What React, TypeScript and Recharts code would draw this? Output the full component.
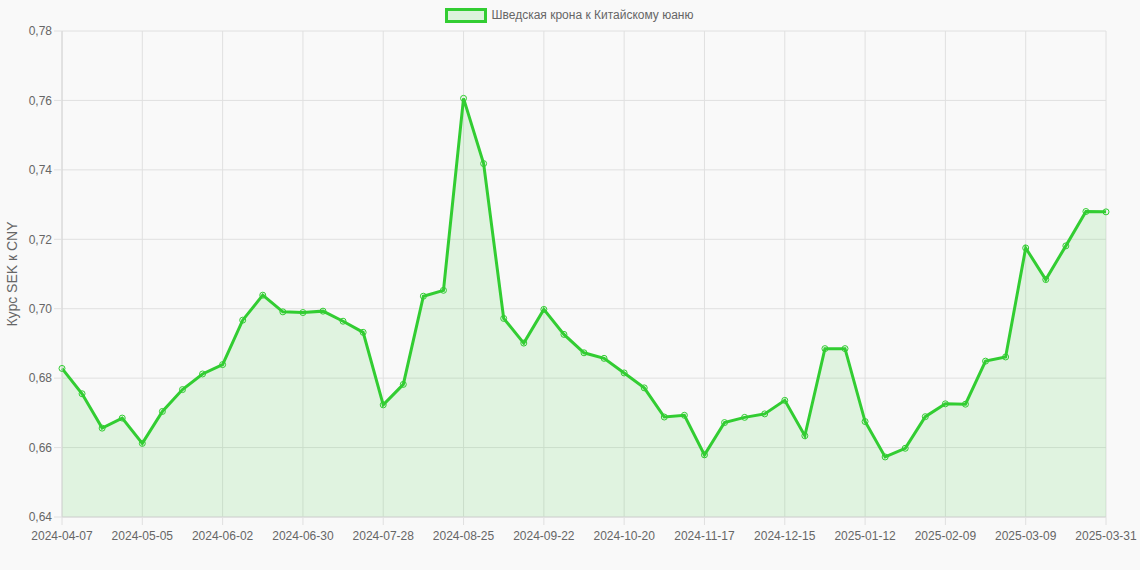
import React from "react";
import { AreaChart, Area, XAxis, YAxis, CartesianGrid, Legend } from "recharts";

const dates: string[] = [
  "2024-04-07", "2024-04-14", "2024-04-21", "2024-04-28", "2024-05-05", "2024-05-12", "2024-05-19", "2024-05-26",
  "2024-06-02", "2024-06-09", "2024-06-16", "2024-06-23", "2024-06-30", "2024-07-07", "2024-07-14", "2024-07-21",
  "2024-07-28", "2024-08-04", "2024-08-11", "2024-08-18", "2024-08-25", "2024-09-01", "2024-09-08", "2024-09-15",
  "2024-09-22", "2024-09-29", "2024-10-06", "2024-10-13", "2024-10-20", "2024-10-27", "2024-11-03", "2024-11-10",
  "2024-11-17", "2024-11-24", "2024-12-01", "2024-12-08", "2024-12-15", "2024-12-22", "2024-12-29", "2025-01-05",
  "2025-01-12", "2025-01-19", "2025-01-26", "2025-02-02", "2025-02-09", "2025-02-16", "2025-02-23", "2025-03-02",
  "2025-03-09", "2025-03-16", "2025-03-23", "2025-03-30", "2025-03-31",
];

const rates: number[] = [
  0.6828, 0.6755, 0.6656, 0.6685, 0.6612, 0.6704, 0.6767, 0.6812,
  0.6839, 0.6967, 0.7039, 0.6991, 0.6989, 0.6993, 0.6964, 0.6932,
  0.6723, 0.6782, 0.7036, 0.7053, 0.7606, 0.7418, 0.6972, 0.6901,
  0.6998, 0.6926, 0.6873, 0.6857, 0.6815, 0.6772, 0.6688, 0.6693,
  0.6579, 0.6672, 0.6687, 0.6697, 0.6736, 0.6634, 0.6885, 0.6885,
  0.6675, 0.6573, 0.6598, 0.6689, 0.6726, 0.6725, 0.6849, 0.6861,
  0.7175, 0.7084, 0.7181, 0.728, 0.7279,
];

const yTicks: number[] = [0.64, 0.66, 0.68, 0.7, 0.72, 0.74, 0.76, 0.78];

const seriesName = "Шведская крона к Китайскому юаню";
const yLabel = "Курс SEK к CNY";

const data = dates.map((d, i) => ({ date: d, rate: rates[i] }));

const GREEN = "#32cd32";
const FONT = "'Liberation Sans', Arial, Helvetica, sans-serif";

const LegendContent = () => (
  <div style={{ height: 23, display: "flex", justifyContent: "center", alignItems: "flex-start", fontFamily: FONT, fontSize: 12, color: "#666", paddingLeft: 32, boxSizing: "border-box" }}>
    <div style={{ display: "flex", alignItems: "center", height: 14 }}>
      <span style={{ display: "inline-block", width: 36, height: 9, border: `3px solid ${GREEN}`, background: "rgba(50,205,50,0.15)", marginRight: 5 }} />
      <span>{seriesName}</span>
    </div>
  </div>
);

export default function App() {
  return (
    <div style={{ position: "absolute", left: 0, top: 0, width: 1140, height: 570, background: "#f9f9f9" }}>
      <AreaChart width={1140} height={570} data={data} margin={{ top: 8, right: 34, bottom: 0, left: 0 }}>
        <CartesianGrid stroke="#e0e0e0" strokeWidth={1} />
        <Legend verticalAlign="top" align="center" content={<LegendContent />} />
        <XAxis
          dataKey="date"
          interval={3}
          height={53}
          tickSize={8}
          tickLine={{ stroke: "#e0e0e0" }}
          axisLine={{ stroke: "#d6d6d6" }}
          tick={{ fill: "#666", fontSize: 12, fontFamily: FONT }}
          tickMargin={6}
        />
        <YAxis
          domain={[0.64, 0.78]}
          ticks={yTicks}
          width={62}
          tickSize={8}
          tickLine={{ stroke: "#e0e0e0" }}
          axisLine={{ stroke: "#d6d6d6" }}
          tick={{ fill: "#666", fontSize: 12, fontFamily: FONT }}
          tickMargin={2}
          tickFormatter={(v: number) => v.toFixed(2).replace(".", ",")}
          label={{ value: yLabel, angle: -90, position: "insideLeft", offset: 12, style: { fill: "#666", fontSize: 14, fontFamily: FONT, textAnchor: "middle" } }}
        />
        <Area
          type="linear"
          dataKey="rate"
          name={seriesName}
          stroke={GREEN}
          strokeWidth={3}
          fill={GREEN}
          fillOpacity={0.12}
          dot={{ r: 3, stroke: GREEN, strokeWidth: 1, fill: "rgba(50,205,50,0.25)" }}
          activeDot={false}
          isAnimationActive={false}
        />
      </AreaChart>
    </div>
  );
}
